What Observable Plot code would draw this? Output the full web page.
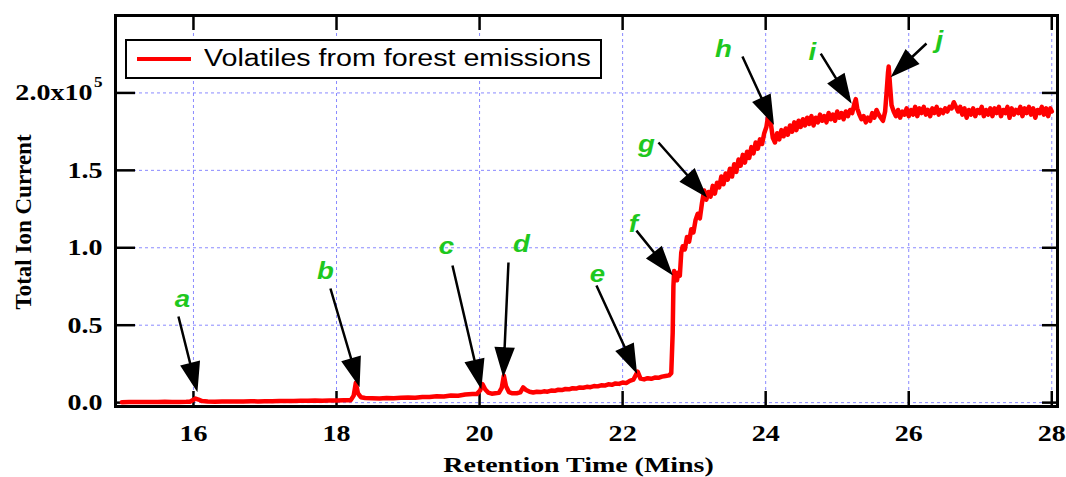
<!DOCTYPE html>
<html>
<head>
<meta charset="utf-8">
<script src="https://cdn.jsdelivr.net/npm/d3@7"></script>
<script src="https://cdn.jsdelivr.net/npm/@observablehq/plot@0.6"></script>
<style>
  html, body { margin: 0; padding: 0; background: #fff; }
  #wrap { position: relative; width: 1066px; height: 477px; overflow: hidden; }
  #legend { position: absolute; left: 125px; top: 39px; width: 477px; height: 40px; box-sizing: border-box;
            border: 2px solid #000; background: #fff; }
  #legend .swatch { position: absolute; left: 10px; top: 16px; width: 54px; height: 4px; background: #ff0000; }
  #legend .lab { position: absolute; left: 77px; top: 6px; font: 23px "Liberation Sans", Arial, sans-serif;
                 line-height: 23px; white-space: nowrap; color: #000; transform: scaleX(1.245); transform-origin: 0 50%; }
</style>
</head>
<body>
<div id="wrap"></div>
<script>
// ---------------- data ----------------
const times = [
  15.0,15.1,15.2,15.3,15.4,15.5,15.6,15.7,15.8,15.9,15.95,16.0,16.03,16.07,16.12,16.2,16.3,16.4,16.5,16.6,
  16.7,16.8,16.9,17.0,17.1,17.2,17.3,17.4,17.5,17.6,17.7,17.8,17.9,18.0,18.1,18.2,18.24,18.27,18.30,18.34,
  18.4,18.5,18.6,18.7,18.8,18.9,19.0,19.1,19.2,19.3,19.4,19.5,19.6,19.7,19.8,19.9,19.96,20.01,20.04,20.08,
  20.12,20.17,20.22,20.27,20.31,20.34,20.37,20.41,20.46,20.52,20.57,20.61,20.65,20.7,20.75,20.8,20.85,20.9,20.95,21.0,
  21.05,21.1,21.15,21.2,21.25,21.3,21.35,21.4,21.45,21.5,21.55,21.6,21.65,21.7,21.75,21.8,21.85,21.9,21.95,22.0,
  22.05,22.1,22.15,22.21,22.25,22.3,22.35,22.4,22.45,22.5,22.55,22.6,22.65,22.68,22.70,22.71,22.72,22.74,22.76,22.78,
  22.80,22.82,22.84,22.87,22.90,22.93,22.96,22.99,23.02,23.05,23.08,23.11,23.14,23.17,23.20,23.23,23.26,23.29,23.32,23.35,
  23.38,23.41,23.44,23.47,23.50,23.53,23.56,23.59,23.62,23.65,23.68,23.71,23.74,23.77,23.80,23.83,23.86,23.89,23.92,23.95,
  23.98,24.01,24.04,24.07,24.10,24.13,24.16,24.19,24.22,24.25,24.28,24.31,24.34,24.37,24.40,24.43,24.46,24.49,24.52,24.55,
  24.58,24.61,24.64,24.67,24.70,24.73,24.76,24.79,24.82,24.85,24.88,24.91,24.94,24.97,25.00,25.03,25.06,25.09,25.12,25.15,
  25.18,25.21,25.24,25.26,25.28,25.31,25.34,25.37,25.40,25.43,25.46,25.49,25.52,25.55,25.58,25.61,25.64,25.67,25.69,25.71,
  25.72,25.74,25.76,25.79,25.82,25.85,25.88,25.91,25.94,25.97,26.00,26.03,26.06,26.09,26.12,26.15,26.18,26.21,26.24,26.27,
  26.30,26.33,26.36,26.39,26.42,26.45,26.48,26.51,26.54,26.57,26.60,26.63,26.66,26.69,26.72,26.75,26.78,26.81,26.84,26.87,
  26.90,26.93,26.96,26.99,27.02,27.05,27.08,27.11,27.14,27.17,27.20,27.23,27.26,27.29,27.32,27.35,27.38,27.41,27.44,27.47,
  27.50,27.53,27.56,27.59,27.62,27.65,27.68,27.71,27.74,27.77,27.80,27.83,27.86,27.89,27.92,27.95,27.98,28.00
];
const tic = [
  300,400,350,450,350,400,500,400,450,500,600,1900,2600,2000,1000,700,600,700,650,800,
  700,850,800,950,900,1000,1100,1000,1200,1150,1300,1250,1400,1450,1500,1600,4500,12800,6000,3500,
  3000,2800,2700,3000,2900,3200,3300,3200,3700,3600,4100,4000,4600,4500,5200,5600,5500,8000,12000,8500,
  6500,5800,6100,6300,9500,17400,10500,6800,6000,6100,6600,9800,8200,7000,6500,7000,6800,7300,7100,7800,
  7600,8300,8100,8800,8600,9300,9100,9800,9600,10200,10000,10700,10500,11200,11000,11800,11500,12400,12100,13000,
  12600,14000,14800,20000,15500,15000,15800,15400,16200,16000,16800,17200,17600,19000,45000,75000,85000,83000,79000,84000,
  82000,97000,101000,99000,107000,104000,112000,110000,118000,122000,119000,129000,137000,131000,136000,133000,140000,135000,142000,139000,
  146000,141000,148000,144000,151000,146000,154000,149000,157000,153000,160000,155000,162000,158000,165000,161000,168000,164000,170000,167000,
  174000,178000,187000,181000,171000,168000,174000,170000,176000,172000,177000,173000,179000,175000,181000,176000,182000,178000,183000,179000,
  184000,180000,185000,179000,184000,181000,186000,182000,185000,181000,187000,183000,186000,182000,188000,184000,187000,183000,188000,185000,
  189000,187000,193000,196000,190000,186000,183000,185000,181000,184000,182000,187000,184000,189000,186000,184000,182000,188000,200000,213000,
  217000,204000,192000,188000,185000,189000,184000,188000,186000,190000,185000,189000,186000,191000,185000,190000,187000,191000,186000,189000,
  185000,190000,187000,191000,186000,189000,187000,190000,188000,191000,190000,194000,191000,188000,191000,186000,190000,184000,189000,186000,
  190000,185000,189000,187000,191000,185000,189000,186000,190000,185000,190000,187000,191000,185000,189000,187000,191000,184000,190000,186000,
  189000,187000,191000,185000,190000,187000,191000,186000,190000,184000,189000,187000,191000,186000,190000,185000,190000,188000
];
const seriesName = "Volatiles from forest emissions";
const xTicks = [16, 18, 20, 22, 24, 26, 28];
const yTicks = [0, 50000, 100000, 150000, 200000];
const yTickLabels = ["0.0", "0.5", "1.0", "1.5", "2.0x10"];
const yExponent = "5";
const xTitle = "Retention Time (Mins)";
const yTitle = "Total Ion Current";

// peak annotations: label position, arrow tail, arrow tip (time, current)
const peakLabels  = ["a", "b", "c", "d", "e", "f", "g", "h", "i", "j"];
const labelTime   = [15.846, 17.845, 19.537, 20.585, 21.648, 22.151, 22.333, 23.410, 24.654, 26.429];
const labelValue  = [66600, 84700, 100800, 102100, 82700, 115000, 166700, 228000, 226100, 233800];
const tailTime    = [15.790, 17.915, 19.621, 20.404, 21.634, 22.193, 22.501, 23.675, 24.770, 26.248];
const tailValue   = [55600, 73700, 88500, 90500, 75600, 111100, 168000, 223500, 225400, 231900];
const tipTime     = [16.042, 18.307, 20.012, 20.334, 22.180, 22.668, 23.144, 24.094, 25.174, 25.786];
const tipValue    = [9100, 12300, 11000, 18800, 20700, 84000, 134400, 181500, 195100, 211900];

// ---------------- layout ----------------
const W = 1066, H = 477;
const mL = 115, mR = 9, mT = 15, mB = 71;
const xDomain = [14.91, 28.08];
const yDomain = [-2500, 250000];
const kx = (W - mL - mR) / (xDomain[1] - xDomain[0]);
const ky = (H - mT - mB) / (yDomain[1] - yDomain[0]);

const rows = times.map((t, i) => ({t, v: tic[i]}));
const arrows = peakLabels.map((l, i) => {
  const dx = (tipTime[i] - tailTime[i]) * kx;
  const dyUp = (tipValue[i] - tailValue[i]) * ky;
  return {
    t: tailTime[i], v: tailValue[i],
    len: Math.hypot(dx, dyUp),
    rot: Math.atan2(dx, dyUp) * 180 / Math.PI
  };
});
const labels = peakLabels.map((l, i) => ({l, t: labelTime[i], v: labelValue[i]}));

const headL = 25, headW = 8.5;
const arrowShape = {
  draw(ctx, l) {
    ctx.moveTo(0, 0);
    ctx.lineTo(0, -(l - headL + 2));
    ctx.moveTo(0, -l);
    ctx.lineTo(-headW, -l + headL);
    ctx.lineTo(headW, -l + headL);
    ctx.closePath();
  }
};

const gridColor = "#8a8aff";
const serif = "'Liberation Serif', 'Times New Roman', serif";
const sans = "'Liberation Sans', Arial, sans-serif";

const chart = Plot.plot({
  width: W, height: H,
  marginLeft: mL, marginRight: mR, marginTop: mT, marginBottom: mB,
  x: {domain: xDomain, axis: null},
  y: {domain: yDomain, axis: null},
  length: {type: "identity"},
  style: {background: "#fff", overflow: "visible"},
  marks: [
    Plot.ruleX(xTicks, {x: d => d, stroke: gridColor, strokeWidth: 1, strokeDasharray: "3,3"}),
    Plot.ruleY(yTicks, {y: d => d, stroke: gridColor, strokeWidth: 1, strokeDasharray: "3,3"}),
    // inward ticks
    Plot.tickX(xTicks, {x: d => d, insetTop: 376, stroke: "#000", strokeWidth: 2.5}),
    Plot.tickX(xTicks, {x: d => d, insetBottom: 376, stroke: "#000", strokeWidth: 2.5}),
    Plot.tickY(yTicks, {y: d => d, insetRight: 922, stroke: "#000", strokeWidth: 2.5}),
    Plot.tickY(yTicks, {y: d => d, insetLeft: 927, stroke: "#000", strokeWidth: 2.5}),
    // series
    Plot.line(rows, {x: "t", y: "v", stroke: "#ff0000", strokeWidth: 4.5, strokeLinejoin: "round", curve: "linear"}),
    // arrows
    Plot.vector(arrows, {x: "t", y: "v", length: "len", rotate: "rot", anchor: "start", shape: arrowShape,
      fill: "#000", stroke: "#000", strokeWidth: 2.5, strokeLinecap: "butt", strokeLinejoin: "miter"}),
    // peak letters
    Plot.text(labels, {x: "t", y: "v", text: "l", fill: "#1ec81e", fontFamily: sans, fontSize: 23,
      fontWeight: "bold", fontStyle: "italic", lineAnchor: "middle", ariaDescription: "stretch120"}),
    // frame
    Plot.frame({stroke: "#000", strokeWidth: 3}),
    // y tick labels
    Plot.text(yTicks.slice(0, 4), {y: d => d, text: (d, i) => yTickLabels[i], frameAnchor: "left", textAnchor: "end",
      dx: -13, fontFamily: serif, fontWeight: "bold", fontSize: 23, fill: "#000", lineAnchor: "middle", ariaDescription: "stretch125"}),
    Plot.text(yTicks.slice(4), {y: d => d, text: () => yTickLabels[4], frameAnchor: "left", textAnchor: "end",
      dx: -23, fontFamily: serif, fontWeight: "bold", fontSize: 23, fill: "#000", lineAnchor: "middle", ariaDescription: "stretch125"}),
    Plot.text(yTicks.slice(4), {y: d => d, text: () => yExponent, frameAnchor: "left", textAnchor: "end",
      dx: -13, dy: -10, fontFamily: serif, fontWeight: "bold", fontSize: 14, fill: "#000", lineAnchor: "middle", ariaDescription: "stretch125"}),
    // x tick labels
    Plot.text(xTicks, {x: d => d, text: d => String(d), frameAnchor: "bottom", textAnchor: "middle", dy: 27, fontFamily: serif,
      fontWeight: "bold", fontSize: 23, fill: "#000", lineAnchor: "middle", ariaDescription: "stretch125"}),
    // axis titles
    Plot.text([xTitle], {text: d => d, frameAnchor: "bottom", textAnchor: "middle", dx: -8, dy: 58, fontFamily: serif,
      fontWeight: "bold", fontSize: 22, fill: "#000", lineAnchor: "middle", ariaDescription: "stretch127"}),
    Plot.text([yTitle], {text: d => d, frameAnchor: "left", textAnchor: "middle", dx: -92, dy: 11, rotate: -90, fontFamily: serif,
      fontWeight: "bold", fontSize: 23, fill: "#000", lineAnchor: "middle"})
  ]
});

// horizontal stretch of texts (the reference artwork is horizontally widened)
function stretch(el, s) {
  const t = el.getAttribute("transform") || "";
  el.setAttribute("transform", `${t} scale(${s},1)`);
}
[["stretch120", 1.2], ["stretch125", 1.22], ["stretch127", 1.27]].forEach(([name, s]) => {
  d3.select(chart).selectAll(`g[aria-description="${name}"] text`).each(function() { stretch(this, s); });
});

const wrap = document.getElementById("wrap");
wrap.appendChild(chart);
const legend = document.createElement("div");
legend.id = "legend";
legend.innerHTML = `<div class="swatch"></div><span class="lab"></span>`;
legend.querySelector(".lab").textContent = seriesName;
wrap.appendChild(legend);
</script>
</body>
</html>
